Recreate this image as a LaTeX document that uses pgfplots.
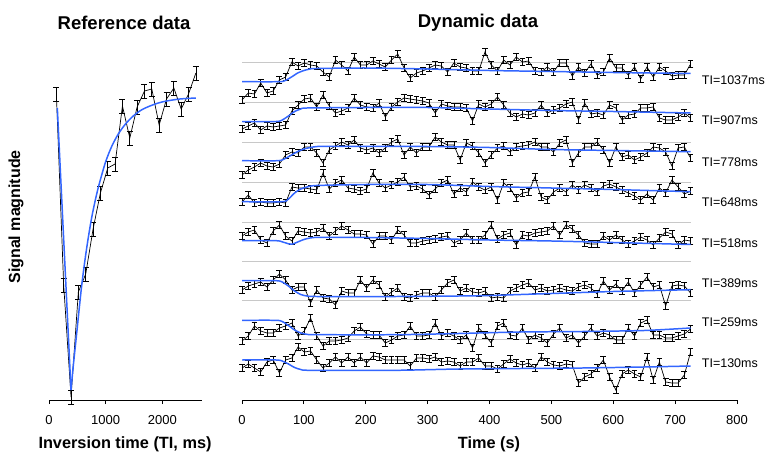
\documentclass[border=0pt]{standalone}
\usepackage{pgfplots}
\pgfplotsset{compat=1.18}
\usepackage{pgfplotstable}
\usepackage{fontspec}
\setmainfont{Liberation Sans}

\definecolor{fitblue}{RGB}{51,102,255}
\definecolor{gridgray}{RGB}{200,200,200}

% Reference data: TI (ms), signal given as pixel row (py)
\pgfplotstableread{
ti s
130 94
259 285
389 397
518 292
648 274
778 229
907 193
1037 168
1166 164
1296 106
1426 138
1555 107
1685 91
1814 89
1944 125
2074 99
2203 88
2333 109
2462 94
2592 73
}\refdata

% Dynamic data: time (s) and the eight traces (values as pixel rows)
\pgfplotstableread{
t A B C D E F G H
0.0 100 129 175 202 236 290 341 368
10.1 93 126 170 195 232 286 336 364
20.1 94 123 167 203 230 284 326 368
30.2 83 130 163 202 240 282 331 372
40.3 93 126 166 203 243 287 333 362
50.4 91 127 167 203 231 280 333 360
60.4 80 126 164 202 225 274 328 373
70.5 77 125 155 203 236 280 326 360
80.6 62 111 152 187 241 290 323 358
90.6 66 105 153 188 231 287 336 347
100.7 63 99 147 188 232 287 331 352
110.8 65 98 147 189 233 303 318 351
120.8 66 107 153 190 232 290 336 360
130.9 72 95 163 173 228 298 346 368
141.0 77 106 150 189 236 299 341 363
151.1 60 113 146 183 231 305 341 357
161.1 65 111 142 180 226 291 340 363
171.2 71 108 145 188 230 293 338 357
181.3 57 98 140 189 234 293 331 363
191.3 65 105 148 191 234 280 327 357
201.4 65 107 150 189 235 288 334 363
211.5 61 108 148 173 244 280 335 356
221.5 64 103 153 183 236 285 335 357
231.6 67 117 148 188 236 297 343 360
241.7 60 107 142 185 240 292 340 360
251.8 54 102 139 182 230 288 336 360
261.8 68 98 155 177 235 297 335 360
271.9 78 99 147 187 243 298 326 366
282.0 73 100 153 186 243 295 336 358
292.0 71 101 147 189 241 293 336 358
302.1 68 103 147 195 240 293 335 359
312.2 65 113 137 189 239 297 323 357
322.2 66 104 142 183 237 290 336 362
332.3 72 106 145 180 236 283 333 361
342.4 63 107 145 194 243 280 336 362
352.5 67 107 160 188 240 291 340 366
362.5 68 108 143 192 233 288 335 362
372.6 71 121 146 182 240 292 348 362
382.7 71 104 153 187 240 293 328 358
392.7 52 107 163 190 235 291 335 366
402.8 65 104 155 187 225 298 343 366
412.9 71 97 148 200 239 297 326 369
422.9 60 105 146 183 235 298 323 364
433.0 65 113 152 188 233 291 335 359
443.1 57 117 147 198 245 288 336 363
453.2 62 114 146 193 235 285 328 365
463.2 61 115 145 192 236 283 340 363
473.3 71 113 142 177 233 290 335 368
483.4 72 105 147 197 232 288 338 357
493.4 67 113 147 200 231 291 343 362
503.5 72 110 152 192 226 290 334 365
513.6 63 108 143 188 235 288 328 366
523.6 63 104 140 192 225 290 338 364
533.7 76 102 163 185 229 291 335 365
543.8 67 120 153 190 235 287 343 383
553.8 73 103 147 185 243 285 336 377
563.9 64 114 147 188 244 288 328 374
574.0 75 113 142 192 244 294 336 368
584.0 72 115 150 186 236 281 333 360
594.1 58 105 163 184 240 290 335 377
604.2 68 108 147 187 235 284 340 390
614.2 68 120 157 190 240 291 340 374
624.3 75 115 155 193 244 282 328 370
634.4 67 114 160 196 241 293 336 374
644.4 79 108 157 200 237 285 323 377
654.5 67 108 153 194 240 277 320 357
664.6 77 107 147 200 245 287 335 380
674.6 67 118 148 188 238 285 335 362
684.7 71 120 152 193 232 306 338 382
694.8 76 120 166 180 234 286 338 383
704.8 75 117 148 187 245 285 336 383
714.9 75 113 147 194 240 286 334 375
725.0 64 118 158 191 241 293 329 352
}\dyn

\pgfplotsset{
  panel/.style={
    scale only axis, height=370bp, ymin=0, ymax=370,
    axis x line=bottom, axis y line=none,
    axis line style={-, line width=0.8pt},
    tick align=outside, major tick length=4bp,
    tick style={black, line width=0.8pt},
    ticklabel style={font=\fontsize{13bp}{13bp}\selectfont},
    xticklabel style={yshift=-8bp},
    /pgf/number format/assume math mode=true,
    /pgf/number format/1000 sep={},
    clip=false, anchor=south west,
  },
  dynline/.style={black, line width=0.7pt,
    error bars/.cd, y dir=both, y fixed=3.3,
    error bar style={line width=0.7pt},
    error mark options={rotate=90, mark size=2.9bp, line width=0.7pt}},
  fitline/.style={fitblue, line width=1.5pt, smooth, tension=0.4},
  gline/.style={gridgray, line width=0.9pt},
}

\begin{document}
\begin{tikzpicture}
\useasboundingbox (0,0) rectangle (767bp,453bp);

% ---------- Reference data ----------
\begin{axis}[panel, at={(49bp,53bp)}, width=153bp,
  xmin=0, xmax=2700, xtick={0,1000,2000}]
\addplot[black, line width=0.7pt,
  error bars/.cd, y dir=both, y fixed=7,
  error bar style={line width=0.7pt},
  error mark options={rotate=90, mark size=3bp, line width=0.7pt}]
  table[x=ti, y expr=400-\thisrow{s}] {\refdata};
\addplot[fitblue, line width=1.5pt] coordinates {(147,292) (388,10)};
\addplot[fitblue, line width=1.5pt, smooth, tension=0.5] coordinates {
(388,10) (430,35) (480,62) (576,114) (660,150) (752,182) (850,208)
(950,229) (1017,241) (1110,254) (1223,266) (1350,276) (1487,284)
(1630,290) (1781,294) (1930,297) (2076,299) (2310,301) (2593,302)};
\end{axis}

% ---------- Dynamic data ----------
\begin{axis}[panel, at={(242bp,53bp)}, width=495bp,
  xmin=0, xmax=800, xtick={0,100,...,800}]
\addplot[gline] coordinates {(0,338) (725,338)};
\addplot[gline] coordinates {(0,298) (725,298)};
\addplot[gline] coordinates {(0,258) (725,258)};
\addplot[gline] coordinates {(0,218) (725,218)};
\addplot[gline] coordinates {(0,178) (725,178)};
\addplot[gline] coordinates {(0,139) (725,139)};
\addplot[gline] coordinates {(0,100) (725,100)};
\addplot[gline] coordinates {(0,61) (725,61)};

\addplot[dynline] table[x=t, y expr=400-\thisrow{A}] {\dyn};
\addplot[dynline] table[x=t, y expr=400-\thisrow{B}] {\dyn};
\addplot[dynline] table[x=t, y expr=400-\thisrow{C}] {\dyn};
\addplot[dynline] table[x=t, y expr=400-\thisrow{D}] {\dyn};
\addplot[dynline] table[x=t, y expr=400-\thisrow{E}] {\dyn};
\addplot[dynline] table[x=t, y expr=400-\thisrow{F}] {\dyn};
\addplot[dynline] table[x=t, y expr=400-\thisrow{G}] {\dyn};
\addplot[dynline] table[x=t, y expr=400-\thisrow{H}] {\dyn};

\addplot[fitline] coordinates {(0,318.3) (60,318.3) (70,319.5) (80,323) (90,327) (100,329.5) (110,331) (120,331.5) (200,332) (300,331) (400,329.5) (500,328.5) (600,327.5) (725,326.5)};
\addplot[fitline] coordinates {(0,278.5) (55,278.5) (65,280) (75,284) (85,288.5) (95,291) (105,292) (200,292.5) (300,292.5) (400,291) (500,289.5) (600,288.5) (725,287)};
\addplot[fitline] coordinates {(0,239.3) (58,239.3) (70,241.5) (80,245) (90,248.5) (100,251) (115,253) (130,253.7) (200,253.7) (300,253.5) (400,252.5) (500,250.5) (600,249.5) (725,248.3)};
\addplot[fitline] coordinates {(0,198.3) (65,198.3) (75,201) (85,207) (95,211) (105,213) (120,214.5) (200,215.5) (300,215.5) (400,213.5) (500,212) (600,210.5) (725,208.3)};
\addplot[fitline] coordinates {(0,159.3) (55,159.3) (65,158.2) (75,156.2) (82,156) (90,158) (100,160.5) (110,162) (125,162.7) (200,162.5) (300,161.5) (400,160) (500,159) (600,157.5) (725,155.5)};
\addplot[fitline] coordinates {(0,119.3) (55,119.3) (65,118) (75,114) (85,109) (95,105.5) (105,104) (120,103.5) (250,103.5) (350,104) (400,104.5) (500,106.5) (600,108.5) (725,110.3)};
\addplot[fitline] coordinates {(0,79.7) (55,79.7) (65,78.5) (75,74.5) (85,70) (95,67) (105,65.7) (120,65.3) (250,65.3) (350,66.5) (450,68) (550,68.5) (650,69.5) (725,72)};
\addplot[fitline] coordinates {(0,40) (55,40) (65,39) (75,36) (85,32.5) (95,30.5) (110,29.7) (250,29.7) (350,31) (450,31.5) (550,32) (650,33) (725,34)};

\begin{scope}[every node/.style={anchor=west, inner sep=0pt, font=\fontsize{12.5bp}{12.5bp}\selectfont}]
\node at (axis cs:743,320) {TI=1037ms};
\node at (axis cs:743,280) {TI=907ms};
\node at (axis cs:743,238) {TI=778ms};
\node at (axis cs:743,198) {TI=648ms};
\node at (axis cs:743,157) {TI=518ms};
\node at (axis cs:743,117) {TI=389ms};
\node at (axis cs:743,78) {TI=259ms};
\node at (axis cs:743,37) {TI=130ms};
\end{scope}
\end{axis}

% ---------- titles and axis labels ----------
\node[font=\fontsize{18.5bp}{18.5bp}\selectfont\bfseries] at (124bp,430bp) {Reference data};
\node[font=\fontsize{18.5bp}{18.5bp}\selectfont\bfseries] at (478bp,430bp) {Dynamic data};
\node[font=\fontsize{16bp}{16bp}\selectfont\bfseries, rotate=90] at (16bp,236bp) {Signal magnitude};
\node[font=\fontsize{16.3bp}{16.3bp}\selectfont\bfseries] at (125bp,9bp) {Inversion time (TI, ms)};
\node[font=\fontsize{16.3bp}{16.3bp}\selectfont\bfseries] at (489bp,9bp) {Time (s)};
\end{tikzpicture}
\end{document}
